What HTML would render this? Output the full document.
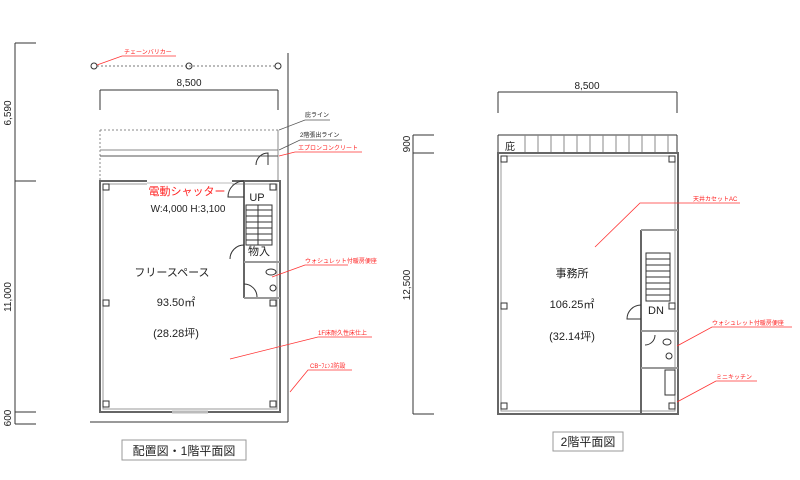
<!DOCTYPE html>
<html><head><meta charset="utf-8"><style>
html,body{margin:0;padding:0;background:#fff;}
svg{display:block;}
text{font-family:"Liberation Sans","Noto Sans CJK JP",sans-serif;}
</style></head><body>
<svg width="800" height="480" viewBox="0 0 800 480" xmlns="http://www.w3.org/2000/svg">
<g stroke="#333" stroke-width="1" fill="none">
<line x1="15" y1="43" x2="15" y2="424"/>
<line x1="15" y1="43" x2="36" y2="43"/>
<line x1="15" y1="181" x2="36" y2="181"/>
<line x1="15" y1="412" x2="36" y2="412"/>
<line x1="15" y1="424" x2="36" y2="424"/>
<line x1="288" y1="53" x2="288" y2="422"/>
<line x1="90" y1="422" x2="288" y2="422"/>
<line x1="100" y1="90" x2="278" y2="90"/>
<line x1="100" y1="90" x2="100" y2="110"/>
<line x1="278" y1="90" x2="278" y2="110"/>
<line x1="97" y1="66" x2="275" y2="66" stroke-dasharray="2,2" stroke="#777"/>
<circle cx="94" cy="66" r="3"/><circle cx="189" cy="66" r="3"/><circle cx="278" cy="66" r="3"/>
<line x1="100" y1="130" x2="278" y2="130" stroke-dasharray="2,2" stroke="#888"/>
<line x1="100" y1="130" x2="100" y2="180" stroke-dasharray="2,2" stroke="#888"/>
<line x1="278" y1="130" x2="278" y2="180" stroke="#888"/>
<line x1="100" y1="150" x2="278" y2="150" stroke="#888"/>
<line x1="100" y1="156" x2="278" y2="156" stroke="#555"/>
<rect x="100" y="181" width="180" height="231" stroke-width="2" stroke="#666"/>
<rect x="103" y="184" width="174" height="225" stroke="#999"/>
<line x1="147" y1="182" x2="232" y2="182" stroke="#fff" stroke-width="5"/>
<line x1="147" y1="183" x2="232" y2="183" stroke="#bbb"/>
<rect x="103" y="184" width="6" height="6"/><rect x="270" y="184" width="6" height="6"/>
<rect x="103" y="300" width="6" height="6"/><rect x="270" y="300" width="6" height="6"/>
<rect x="103" y="401" width="6" height="6"/><rect x="270" y="401" width="6" height="6"/>
<line x1="172" y1="412" x2="208" y2="412" stroke="#bbb" stroke-width="3"/>
<line x1="244" y1="181" x2="244" y2="298" stroke-width="2" stroke="#666"/>
<line x1="244" y1="262" x2="280" y2="262" stroke-width="2" stroke="#999"/>
<line x1="244" y1="298" x2="280" y2="298" stroke-width="2" stroke="#999"/>
<rect x="246" y="205" width="26" height="40"/>
<line x1="246" y1="210" x2="272" y2="210"/><line x1="246" y1="216" x2="272" y2="216"/><line x1="246" y1="222" x2="272" y2="222"/><line x1="246" y1="228" x2="272" y2="228"/><line x1="246" y1="234" x2="272" y2="234"/><line x1="246" y1="240" x2="272" y2="240"/>
<line x1="258" y1="205" x2="258" y2="245"/>
<path d="M244 181 A16 16 0 0 0 228 197 L244 197"/>
<path d="M256 165 A12 12 0 0 1 268 153 L268 165"/>
<path d="M244 245 A14 14 0 0 0 230 259"/>
<path d="M244 284 A13 13 0 0 1 257 297"/>
<ellipse cx="271" cy="272" rx="5" ry="3"/><circle cx="273" cy="288" r="3"/>
<line x1="413" y1="135" x2="413" y2="414"/>
<line x1="413" y1="135" x2="434" y2="135"/>
<line x1="413" y1="153" x2="434" y2="153"/>
<line x1="413" y1="414" x2="434" y2="414"/>
<line x1="498" y1="92" x2="677" y2="92"/>
<line x1="498" y1="92" x2="498" y2="113"/>
<line x1="677" y1="92" x2="677" y2="113"/>
<line x1="498" y1="135" x2="677" y2="135"/>
<line x1="498" y1="135" x2="498" y2="153"/>
<line x1="677" y1="135" x2="677" y2="153"/>
<g stroke="#888">
<line x1="525" y1="135" x2="525" y2="153"/><line x1="538" y1="135" x2="538" y2="153"/><line x1="551" y1="135" x2="551" y2="153"/><line x1="564" y1="135" x2="564" y2="153"/><line x1="577" y1="135" x2="577" y2="153"/><line x1="590" y1="135" x2="590" y2="153"/><line x1="603" y1="135" x2="603" y2="153"/><line x1="616" y1="135" x2="616" y2="153"/><line x1="629" y1="135" x2="629" y2="153"/><line x1="642" y1="135" x2="642" y2="153"/><line x1="655" y1="135" x2="655" y2="153"/><line x1="668" y1="135" x2="668" y2="153"/>
</g>
<rect x="498" y="153" width="180" height="261" stroke-width="2" stroke="#666"/>
<rect x="501" y="156" width="174" height="255" stroke="#999"/>
<rect x="501" y="156" width="6" height="6"/><rect x="669" y="156" width="6" height="6"/>
<rect x="501" y="303" width="6" height="6"/><rect x="669" y="303" width="6" height="6"/>
<rect x="501" y="403" width="6" height="6"/><rect x="669" y="403" width="6" height="6"/>
<line x1="641" y1="230" x2="641" y2="414" stroke-width="2" stroke="#666"/>
<line x1="641" y1="230" x2="678" y2="230" stroke-width="2" stroke="#999"/>
<line x1="641" y1="331" x2="678" y2="331" stroke-width="2" stroke="#999"/>
<line x1="641" y1="368" x2="678" y2="368" stroke-width="2" stroke="#999"/>
<rect x="646" y="253" width="24" height="48"/>
<line x1="646" y1="259" x2="670" y2="259"/><line x1="646" y1="265" x2="670" y2="265"/><line x1="646" y1="271" x2="670" y2="271"/><line x1="646" y1="277" x2="670" y2="277"/><line x1="646" y1="283" x2="670" y2="283"/><line x1="646" y1="289" x2="670" y2="289"/><line x1="646" y1="295" x2="670" y2="295"/>
<path d="M641 305 A14 14 0 0 0 627 319 L641 319"/>
<path d="M645 345 A10 10 0 0 0 655 335"/>
<ellipse cx="667" cy="342" rx="4" ry="3"/><ellipse cx="669" cy="356" rx="3" ry="3"/>
<rect x="665" y="370" width="10" height="25"/>
</g>
<g stroke="#f33" stroke-width="0.8" fill="none">
<path d="M176 56 L122 56 L97 65"/>
<path d="M362 152 L295 152 L279 156"/>
<path d="M348 265 L305 265 L272 277"/>
<path d="M372 337 L318 337 L230 359"/>
<path d="M352 370 L308 370 L290 392"/>
<path d="M740 203 L640 203 L595 247"/>
<path d="M792 327 L712 327 L677 346"/>
<path d="M757 381 L716 381 L677 402"/>
</g>
<g stroke="#555" stroke-width="0.7" fill="none">
<path d="M330 120 L305 120 L279 130"/>
<path d="M342 140 L300 140 L279 150"/>
</g>
<g fill="#222" font-size="10">
<text x="189" y="86" text-anchor="middle">8,500</text>
<text x="587" y="89" text-anchor="middle">8,500</text>
<text transform="translate(11,113) rotate(-90)" text-anchor="middle">6,590</text>
<text transform="translate(11,297) rotate(-90)" text-anchor="middle">11,000</text>
<text transform="translate(11,418) rotate(-90)" text-anchor="middle">600</text>
<text transform="translate(410,144) rotate(-90)" text-anchor="middle">900</text>
<text transform="translate(410,285) rotate(-90)" text-anchor="middle">12,500</text>
<text x="188" y="212" text-anchor="middle">W:4,000 H:3,100</text>
<text x="257" y="201" text-anchor="middle" font-size="11">UP</text>
<text x="259" y="255" text-anchor="middle" font-size="11">物入</text>
<text x="172" y="276" text-anchor="middle" font-size="11">フリースペース</text>
<text x="176" y="306" text-anchor="middle" font-size="11">93.50㎡</text>
<text x="176" y="337" text-anchor="middle" font-size="11">(28.28坪)</text>
<text x="656" y="314" text-anchor="middle" font-size="11">DN</text>
<text x="510" y="150" text-anchor="middle" font-size="10">庇</text>
<text x="572" y="277" text-anchor="middle" font-size="11">事務所</text>
<text x="572" y="308" text-anchor="middle" font-size="11">106.25㎡</text>
<text x="572" y="340" text-anchor="middle" font-size="11">(32.14坪)</text>
<text x="305" y="117" font-size="6">庇ライン</text>
<text x="300" y="137" font-size="6">2階張出ライン</text>
</g>
<g fill="#f22" font-size="6">
<text x="124" y="54">チェーンバリカー</text>
<text x="298" y="150">エプロンコンクリート</text>
<text x="305" y="263">ウォシュレット付暖房便座</text>
<text x="318" y="335">1F床耐久性床仕上</text>
<text x="310" y="368">CBｰﾌｪﾝｽ防設</text>
<text x="693" y="201">天井カセットAC</text>
<text x="712" y="325">ウォシュレット付暖房便座</text>
<text x="716" y="379">ミニキッチン</text>
<text x="187" y="195" text-anchor="middle" font-size="11">電動シャッター</text>
</g>
<rect x="122" y="440" width="124" height="20" fill="none" stroke="#999"/>
<text x="184" y="455" text-anchor="middle" font-size="12" fill="#222">配置図・1階平面図</text>
<rect x="553" y="432" width="70" height="19" fill="none" stroke="#999"/>
<text x="588" y="446" text-anchor="middle" font-size="12" fill="#222">2階平面図</text>
</svg>
</body></html>
